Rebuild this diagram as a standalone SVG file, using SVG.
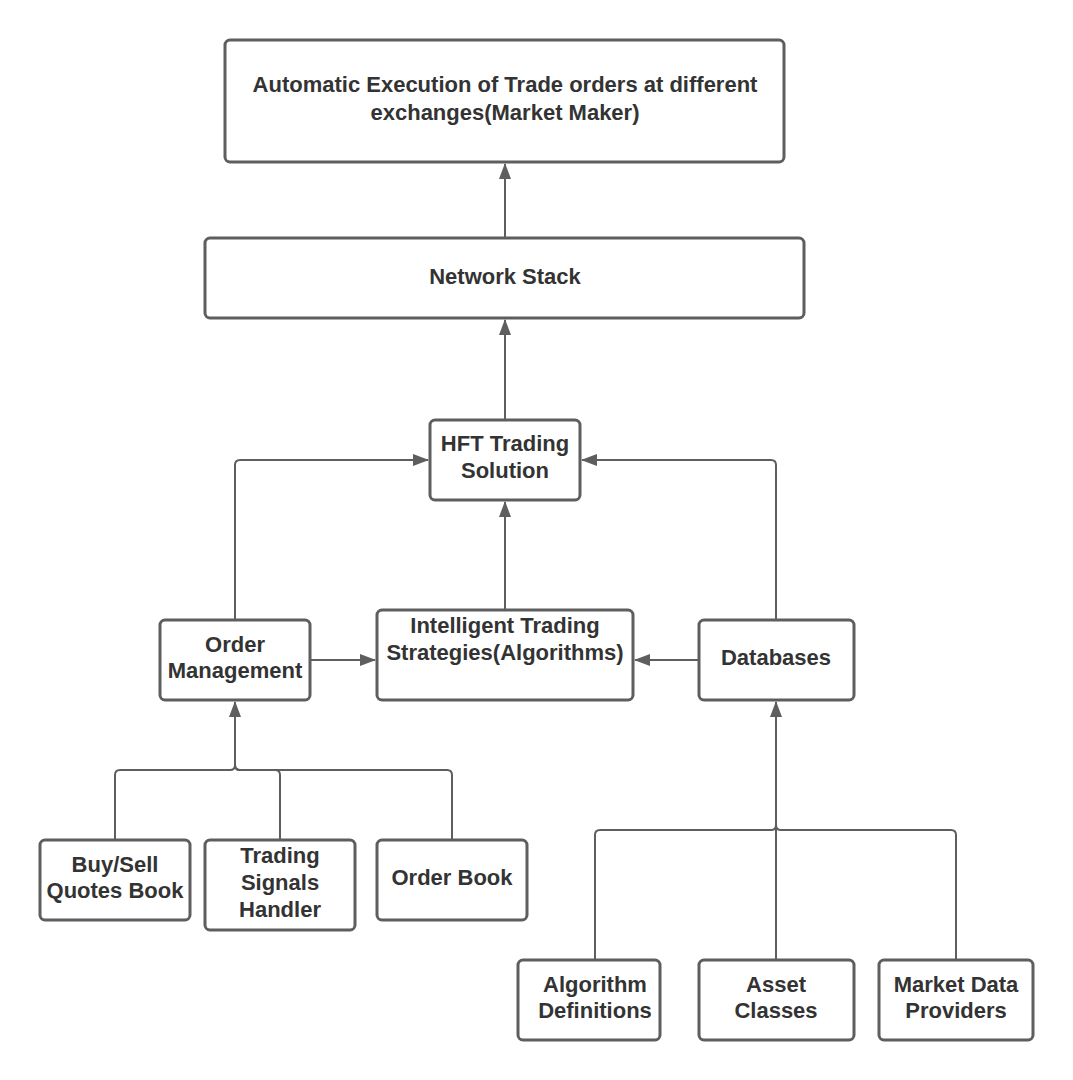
<svg xmlns="http://www.w3.org/2000/svg" width="1073" height="1080" viewBox="0 0 1073 1080">
<style>
.box{fill:#fff;stroke:#5e5e5e;stroke-width:3}
.t{font-family:"Liberation Sans",Arial,sans-serif;font-weight:bold;font-size:22px;fill:#333;text-anchor:middle}
.c{fill:none;stroke:#5e5e5e;stroke-width:2}
.a{marker-end:url(#ah)}
</style>
<defs>
<marker id="ah" viewBox="0 0 16 12" refX="15" refY="6" markerWidth="16" markerHeight="12" markerUnits="userSpaceOnUse" orient="auto">
<path d="M0,0 L16,6 L0,12 z" fill="#5e5e5e"/>
</marker>
</defs>
<rect width="1073" height="1080" fill="#fff"/>
<g id="connectors">
<path class="c a" d="M505,238 V164"/>
<path class="c a" d="M505,420 V320"/>
<path class="c a" d="M505,610 V502"/>
<path class="c a" d="M235,620 V465 Q235,460 240,460 H428"/>
<path class="c a" d="M776,620 V465 Q776,460 771,460 H582"/>
<path class="c a" d="M310,660 H375"/>
<path class="c a" d="M699,660 H635"/>
<path class="c a" d="M115,840 V775 Q115,770 120,770 H230 Q235,770 235,765 V702"/>
<path class="c" d="M280,840 V775 Q280,770 275,770 H240 Q235,770 235,765"/>
<path class="c" d="M452,840 V775 Q452,770 447,770 H240 Q235,770 235,765"/>
<path class="c a" d="M595,960 V835 Q595,830 600,830 H771 Q776,830 776,825 V702"/>
<path class="c" d="M776,960 V825"/>
<path class="c" d="M956,960 V835 Q956,830 951,830 H781 Q776,830 776,825"/>
</g>
<g id="n-top"><rect class="box" x="225" y="40" width="559" height="122" rx="5"/>
<text class="t" x="505" y="92">Automatic Execution of Trade orders at different</text>
<text class="t" x="505" y="120">exchanges(Market Maker)</text></g>
<g id="n-network"><rect class="box" x="205" y="238" width="599" height="80" rx="5"/>
<text class="t" x="505" y="284">Network Stack</text></g>
<g id="n-hft"><rect class="box" x="430" y="420" width="150" height="80" rx="5"/>
<text class="t" x="505" y="451">HFT Trading</text>
<text class="t" x="505" y="478">Solution</text></g>
<g id="n-order"><rect class="box" x="160" y="620" width="150" height="80" rx="5"/>
<text class="t" x="235" y="652">Order</text>
<text class="t" x="235" y="678">Management</text></g>
<g id="n-intel"><rect class="box" x="377" y="610" width="256" height="90" rx="5"/>
<text class="t" x="505" y="633">Intelligent Trading</text>
<text class="t" x="505" y="660">Strategies(Algorithms)</text></g>
<g id="n-db"><rect class="box" x="699" y="620" width="155" height="80" rx="5"/>
<text class="t" x="776" y="665">Databases</text></g>
<g id="n-buysell"><rect class="box" x="40" y="840" width="150" height="80" rx="5"/>
<text class="t" x="115" y="872">Buy/Sell</text>
<text class="t" x="115" y="898">Quotes Book</text></g>
<g id="n-signals"><rect class="box" x="205" y="840" width="150" height="90" rx="5"/>
<text class="t" x="280" y="863">Trading</text>
<text class="t" x="280" y="890">Signals</text>
<text class="t" x="280" y="917">Handler</text></g>
<g id="n-orderbook"><rect class="box" x="377" y="840" width="150" height="80" rx="5"/>
<text class="t" x="452" y="885">Order Book</text></g>
<g id="n-algo"><rect class="box" x="518" y="960" width="142" height="80" rx="5"/>
<text class="t" x="595" y="992">Algorithm</text>
<text class="t" x="595" y="1018">Definitions</text></g>
<g id="n-asset"><rect class="box" x="699" y="960" width="155" height="80" rx="5"/>
<text class="t" x="776" y="992">Asset</text>
<text class="t" x="776" y="1018">Classes</text></g>
<g id="n-market"><rect class="box" x="879" y="960" width="154" height="80" rx="5"/>
<text class="t" x="956" y="992">Market Data</text>
<text class="t" x="956" y="1018">Providers</text></g>
</svg>
